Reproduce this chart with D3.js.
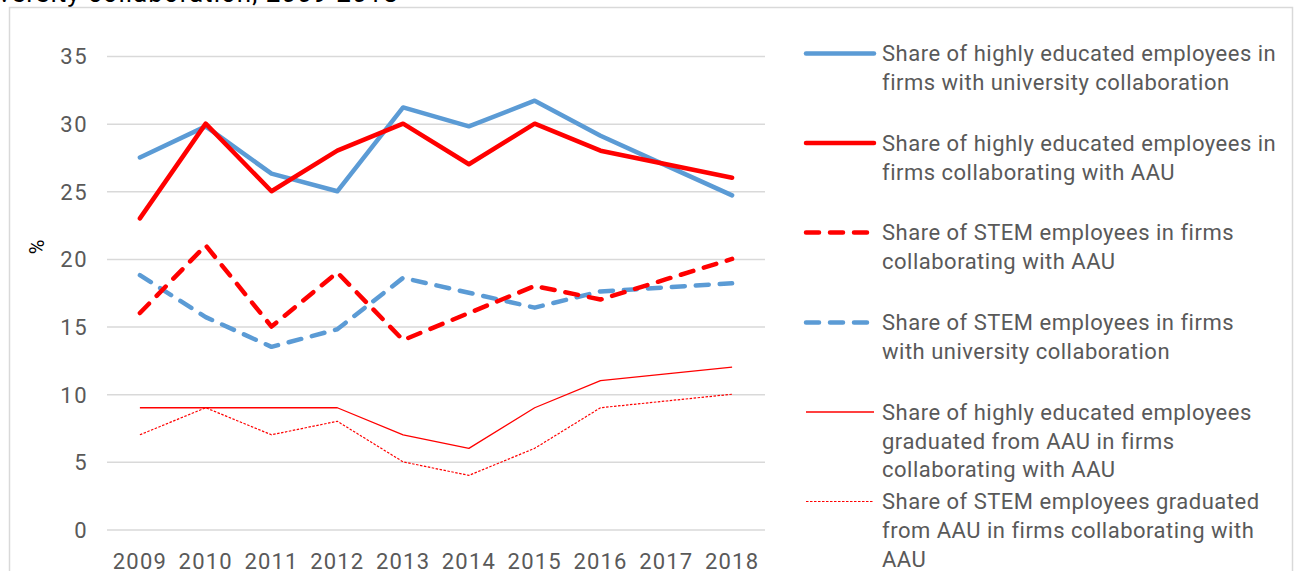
<!doctype html>
<html>
<head>
<meta charset="utf-8"/>
<style>
    html, body { margin: 0; padding: 0; background: #fff; }
    svg { display: block; font-family: Roboto, "Noto Sans", sans-serif; }
</style>
<script src="https://cdn.jsdelivr.net/npm/d3@7"></script>
</head>
<body>
<svg id="chart" width="1295" height="571"></svg>
<script>
// --- data ---
var years = ["2009", "2010", "2011", "2012", "2013", "2014", "2015", "2016", "2017", "2018"];
var yTicks = [0, 5, 10, 15, 20, 25, 30, 35];

var eduUni      = [27.5, 29.8, 26.3, 25.0, 31.2, 29.8, 31.7, 29.1, 26.9, 24.7];
var eduAAU      = [23, 30, 25, 28, 30, 27, 30, 28, 27, 26];
var stemAAU     = [16, 21, 15, 19, 14, 16, 18, 17, 18.5, 20];
var stemUni     = [18.8, 15.7, 13.5, 14.8, 18.6, 17.5, 16.4, 17.6, 17.9, 18.2];
var eduGradAAU  = [9, 9, 9, 9, 7, 6, 9, 11, 11.5, 12];
var stemGradAAU = [7, 9, 7, 8, 5, 4, 6, 9, 9.5, 10];

var seriesNames = [
    ["Share of highly educated employees in", "firms with university collaboration"],
    ["Share of highly educated employees in", "firms collaborating with AAU"],
    ["Share of STEM employees in firms", "collaborating with AAU"],
    ["Share of STEM employees in firms", "with university collaboration"],
    ["Share of highly educated employees", "graduated from AAU in firms", "collaborating with AAU"],
    ["Share of STEM employees graduated", "from AAU in firms collaborating with", "AAU"]
];

var blue = "#5B9BD5", red = "#FF0000";
var series = [
    {values: eduUni,      color: blue, width: 4.5, dash: null},
    {values: eduAAU,      color: red,  width: 4.5, dash: null},
    {values: stemAAU,     color: red,  width: 4.5, dash: "13,11"},
    {values: stemUni,     color: blue, width: 4.5, dash: "13,11"},
    {values: eduGradAAU,  color: red,  width: 1.3, dash: null},
    {values: stemGradAAU, color: red,  width: 1.2, dash: "2.5,1.5"}
];

var svg = d3.select("#chart");

// truncated title at the very top
svg.append("text")
    .attr("x", -2).attr("y", 2)
    .attr("font-size", 26).attr("letter-spacing", 1).attr("fill", "#000")
    .text("versity collaboration, 2009-2018");

// chart frame
svg.append("rect")
    .attr("x", 9.5).attr("y", 7.5)
    .attr("width", 1283).attr("height", 580)
    .attr("fill", "none").attr("stroke", "#D9D9D9").attr("stroke-width", 1.5);

var x = d3.scaleBand().domain(years).range([107, 765]);
var y = d3.scaleLinear().domain([0, 35]).range([529.5, 56]);

// gridlines
svg.append("g")
    .attr("transform", "translate(107,0)")
    .call(d3.axisLeft(y).tickValues(yTicks).tickSize(-658).tickFormat(""))
    .call(function(g) {
        g.select(".domain").remove();
        g.selectAll("line").attr("stroke", "#D9D9D9").attr("stroke-width", 1.5);
    });

// y tick labels
svg.append("g")
    .attr("transform", "translate(88,0)")
    .call(d3.axisLeft(y).tickValues(yTicks).tickSize(0).tickPadding(0))
    .call(function(g) {
        g.select(".domain").remove();
        g.selectAll("text").attr("font-size", 22).attr("fill", "#595959")
            .attr("letter-spacing", 1.5)
            .attr("font-family", "Roboto, sans-serif").attr("dy", "0.36em");
    });

// x labels
svg.append("g")
    .attr("transform", "translate(0,553)")
    .call(d3.axisBottom(x).tickSize(0).tickPadding(0))
    .call(function(g) {
        g.select(".domain").remove();
        g.selectAll("text").attr("font-size", 22).attr("fill", "#595959")
            .attr("letter-spacing", 1.2)
            .attr("font-family", "Roboto, sans-serif").attr("dy", "0.71em");
    });

// y axis title
svg.append("text")
    .attr("transform", "translate(44,247) rotate(-90)")
    .attr("text-anchor", "middle")
    .attr("font-size", 20).attr("fill", "#000")
    .text("%");

var line = d3.line()
    .x(function(d, i) { return x(years[i]) + x.bandwidth() / 2; })
    .y(function(d) { return y(d); });

// draw thin ones first, then thick
var order = [5, 4, 3, 2, 0, 1];
order.forEach(function(k) {
    var s = series[k];
    svg.append("path")
        .datum(s.values)
        .attr("d", line)
        .attr("fill", "none")
        .attr("stroke", s.color)
        .attr("stroke-width", s.width)
        .attr("stroke-linecap", s.width > 2 ? "round" : "butt")
        .attr("stroke-linejoin", "round")
        .attr("stroke-dasharray", s.dash);
});

// legend
var legendY = [53.5, 143, 232.5, 322.5, 412, 501.5];
var legend = svg.append("g");
series.forEach(function(s, i) {
    var thick = s.width > 2;
    legend.append("line")
        .attr("x1", 806).attr("x2", 874)
        .attr("y1", legendY[i]).attr("y2", legendY[i])
        .attr("stroke", s.color)
        .attr("stroke-width", s.width)
        .attr("stroke-linecap", thick ? "round" : "butt")
        .attr("stroke-dasharray", s.dash);
    var t = legend.append("text")
        .attr("x", 882).attr("y", legendY[i])
        .attr("font-size", 22).attr("letter-spacing", 0.5).attr("fill", "#595959");
    seriesNames[i].forEach(function(ln, j) {
        t.append("tspan")
            .attr("x", 882)
            .attr("y", legendY[i] + j * 28.7)
            .attr("dy", "0.36em")
            .text(ln);
    });
});
</script>
</body>
</html>
